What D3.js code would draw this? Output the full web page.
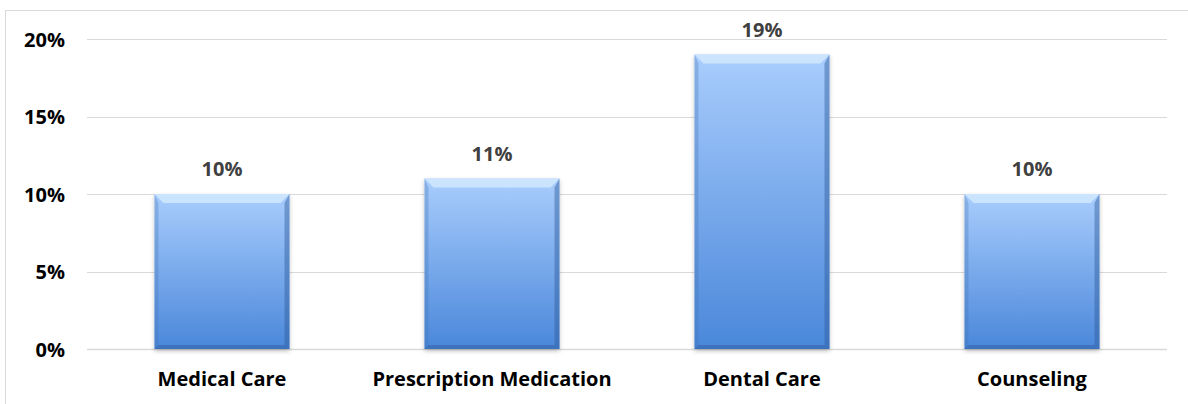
<!DOCTYPE html>
<html>
<head>
<meta charset="utf-8">
<script src="https://cdn.jsdelivr.net/npm/d3@7"></script>
<style>
  body { margin: 0; background: #fff; }
  svg { display: block; font-family: "Open Sans", sans-serif; }
</style>
</head>
<body>
<div id="chart"></div>
<script>
// Chart data
var categories = ["Medical Care", "Prescription Medication", "Dental Care", "Counseling"];
var values = [10, 11, 19, 10];
var yTicks = [0, 5, 10, 15, 20];

var width = 1188;
var height = 404;
var plotLeft = 87, plotRight = 1167, plotTop = 39, plotBottom = 349;
var fontSize = 20;

var svg = d3.select("#chart").append("svg")
  .attr("width", width)
  .attr("height", height);

// gradient + shadow defs
var defs = svg.append("defs");
var grad = defs.append("linearGradient").attr("id", "barGrad")
  .attr("x1", 0).attr("y1", 0).attr("x2", 0).attr("y2", 1);
grad.append("stop").attr("offset", "0%").attr("stop-color", "#a9cdfd");
grad.append("stop").attr("offset", "100%").attr("stop-color", "#4a87da");

var shadow = defs.append("filter").attr("id", "shadow")
  .attr("x", "-10%").attr("y", "-10%").attr("width", "120%").attr("height", "120%");
shadow.append("feDropShadow").attr("dx", 0).attr("dy", 2).attr("stdDeviation", 2)
  .attr("flood-color", "#000").attr("flood-opacity", 0.25);

// outer frame (cut off on the right and bottom)
svg.append("path")
  .attr("d", "M5.5," + height + "V10.5H" + width)
  .attr("fill", "none")
  .attr("stroke", "#d9d9d9")
  .attr("stroke-width", 1);

// scales
var x = d3.scaleBand().domain(categories).range([plotLeft, plotRight]).paddingInner(0.5).paddingOuter(0.25);
var y = d3.scaleLinear().domain([0, 20]).range([plotBottom, plotTop]);

// gridlines
svg.append("g").selectAll("line").data(yTicks).enter().append("line")
  .attr("x1", plotLeft).attr("x2", plotRight)
  .attr("y1", function(d) { return Math.round(y(d)) + 0.5; })
  .attr("y2", function(d) { return Math.round(y(d)) + 0.5; })
  .attr("stroke", "#d9d9d9")
  .attr("stroke-width", function(d) { return d === 0 ? 1.5 : 1; });

// y axis labels
var yAxis = d3.axisLeft(y).tickValues(yTicks).tickSize(0).tickPadding(0)
  .tickFormat(function(d) { return d + "%"; });
var yg = svg.append("g").attr("transform", "translate(65,1)").call(yAxis);
yg.select(".domain").remove();
yg.selectAll("text")
  .attr("font-family", "'Open Sans', sans-serif")
  .attr("font-size", fontSize).attr("font-weight", "bold").attr("fill", "#000");

// x axis labels
var xAxis = d3.axisBottom(x).tickSize(0).tickPadding(0);
var xg = svg.append("g").attr("transform", "translate(0,372)").call(xAxis);
xg.select(".domain").remove();
xg.selectAll("text")
  .attr("font-family", "'Open Sans', sans-serif")
  .attr("font-size", fontSize).attr("font-weight", "bold").attr("fill", "#000");

// bars with bevel
var bev = 9;
var bars = svg.append("g").selectAll("g").data(values).enter().append("g")
  .attr("transform", function(d, i) { return "translate(" + x(categories[i]) + "," + y(d) + ")"; });

bars.append("rect")
  .attr("width", x.bandwidth())
  .attr("height", function(d) { return y(0) - y(d); })
  .attr("fill", "url(#barGrad)")
  .attr("filter", "url(#shadow)");

// top bevel
bars.append("path")
  .attr("d", function(d) {
    var w = x.bandwidth();
    return "M0,0H" + w + "L" + (w - bev) + "," + bev + "H" + bev + "Z";
  })
  .attr("fill", "#d4eafe").attr("opacity", 0.8);

// right bevel
bars.append("path")
  .attr("d", function(d) {
    var w = x.bandwidth(), h = y(0) - y(d);
    return "M" + w + ",0V" + h + "L" + (w - 5) + "," + (h - 4) + "V" + bev + "Z";
  })
  .attr("fill", "#2d5a9a").attr("opacity", 0.45);

// left bevel
bars.append("path")
  .attr("d", function(d) {
    var h = y(0) - y(d);
    return "M0,0V" + h + "L4," + (h - 4) + "V" + bev + "Z";
  })
  .attr("fill", "#3f6fb0").attr("opacity", 0.3);

// bottom bevel
bars.append("path")
  .attr("d", function(d) {
    var w = x.bandwidth(), h = y(0) - y(d);
    return "M0," + h + "H" + w + "L" + (w - 5) + "," + (h - 4) + "H4Z";
  })
  .attr("fill", "#2a5390").attr("opacity", 0.4);

// value labels
svg.append("g").selectAll("text").data(values).enter().append("text")
  .attr("x", function(d, i) { return x(categories[i]) + x.bandwidth() / 2; })
  .attr("y", function(d) { return y(d) - 18; })
  .attr("text-anchor", "middle")
  .attr("font-size", fontSize).attr("font-weight", "bold").attr("fill", "#404040")
  .text(function(d) { return d + "%"; });
</script>
</body>
</html>
